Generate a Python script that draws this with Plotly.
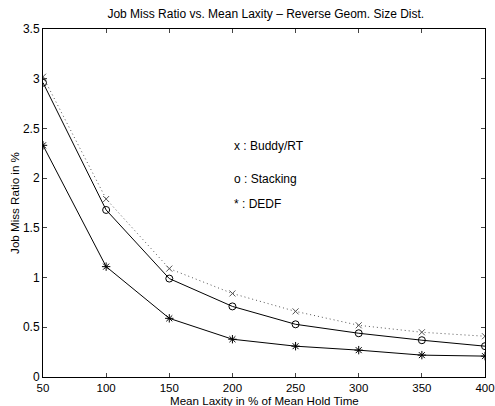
import plotly.graph_objects as go

laxity = [50, 100, 150, 200, 250, 300, 350, 400]
buddy_rt = [3.02, 1.79, 1.09, 0.84, 0.66, 0.52, 0.45, 0.41]
stacking = [2.96, 1.68, 0.99, 0.71, 0.53, 0.44, 0.37, 0.31]
dedf = [2.33, 1.11, 0.59, 0.38, 0.31, 0.27, 0.22, 0.21]

x_ticks = [50, 100, 150, 200, 250, 300, 350, 400]
y_ticks = [0, 0.5, 1, 1.5, 2, 2.5, 3, 3.5]
y_tick_labels = ["0", "0.5", "1", "1.5", "2", "2.5", "3", "3.5"]

legend_labels = ["x : Buddy/RT", "o : Stacking", "* : DEDF"]
legend_y = [2.32, 1.99, 1.74]
legend_x = 200

x_title = "Mean Laxity in % of Mean Hold Time"
y_title = "Job Miss Ratio in %"

font = "Liberation Sans, Arial, sans-serif"

fig = go.Figure()
fig.add_trace(go.Scatter(x=laxity, y=buddy_rt, mode="lines+markers",
                         line=dict(color="#555555", width=1, dash="1px,3px"),
                         marker=dict(symbol="x-thin-open", size=6,
                                     line=dict(color="black", width=1)),
                         showlegend=False, hoverinfo="skip"))
fig.add_trace(go.Scatter(x=laxity, y=stacking, mode="lines+markers",
                         line=dict(color="black", width=1),
                         marker=dict(symbol="circle-open", size=7,
                                     color="black", line=dict(width=1)),
                         showlegend=False, hoverinfo="skip"))
fig.add_trace(go.Scatter(x=laxity, y=dedf, mode="lines+markers",
                         line=dict(color="black", width=1),
                         marker=dict(symbol="asterisk-open", size=7,
                                     line=dict(color="black", width=1)),
                         showlegend=False, hoverinfo="skip"))

for lbl, yy in zip(legend_labels, legend_y):
    fig.add_annotation(x=legend_x, y=yy, text=lbl, showarrow=False,
                       xanchor="left", yanchor="middle",
                       font=dict(family=font, size=12, color="black"))

# x-axis title placed as annotation so it can sit just below the tick labels
fig.add_annotation(x=0.5, y=0, xref="paper", yref="paper", text=x_title,
                   showarrow=False, xanchor="center", yanchor="middle",
                   yshift=-23, borderpad=0,
                   font=dict(family=font, size=11.6, color="black"))

fig.update_layout(
    width=495, height=406,
    margin=dict(l=43, r=10, t=29, b=29),
    paper_bgcolor="white", plot_bgcolor="white",
    title=dict(text="Job Miss Ratio vs. Mean Laxity \u2013 Reverse Geom. Size Dist.",
               x=0.537, xanchor="center", y=0.965, yanchor="middle",
               font=dict(family=font, size=12, color="black")),
    font=dict(family=font, size=11, color="black"),
    hovermode=False,
)
fig.update_xaxes(range=[50, 400], tickvals=x_ticks, ticks="inside", ticklen=4,
                 showline=True, linecolor="black", linewidth=1, mirror="ticks",
                 showgrid=False, zeroline=False, automargin=False,
                 ticklabeloverflow="allow",
                 tickfont=dict(family=font, size=11.5))
fig.update_yaxes(range=[0, 3.5], tickvals=y_ticks, ticktext=y_tick_labels,
                 ticks="inside", ticklen=4,
                 showline=True, linecolor="black", linewidth=1, mirror="ticks",
                 showgrid=False, zeroline=False, automargin=False,
                 ticklabeloverflow="allow",
                 title=dict(text=y_title, standoff=0,
                            font=dict(family=font, size=11.6)),
                 tickfont=dict(family=font, size=12))

fig.write_html("out.html", config={"displayModeBar": False, "staticPlot": True},
               post_script="document.body.style.margin='0';document.body.style.overflow='hidden';")
